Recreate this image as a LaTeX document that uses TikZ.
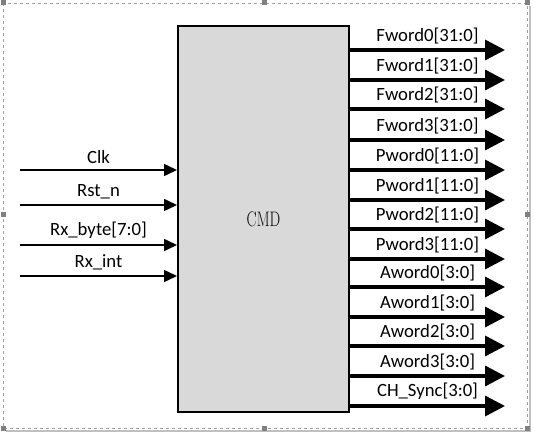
\documentclass[tikz,border=0pt]{standalone}
\usepackage{fontspec}
\setsansfont{Carlito}
\usepackage{tikz}
\usetikzlibrary{positioning, arrows.meta, calc}

\definecolor{blockgray}{RGB}{217,217,217}
\definecolor{framegray}{RGB}{160,160,160}
\definecolor{handlegray}{RGB}{128,128,128}

\begin{document}
\begin{tikzpicture}[x=1pt, y=-1pt,
        every node/.style={font=\sffamily\fontsize{18.7}{20}\selectfont},
        inarrow/.style={-{Triangle[length=13pt, width=12pt]}, line width=1.6pt},
        outarrow/.style={-{Triangle[length=20pt, width=20pt]}, line width=3.4pt},
        handle/.style={fill=handlegray, minimum size=5pt, inner sep=0pt}]
        \useasboundingbox (0,0) rectangle (534,435);

        % Frame and handles
        \draw[framegray, dashed] (3,3) rectangle (527,428);
        \draw[gray!50, line width=1.5pt] (530,6) -- (530,431) -- (6,431);
        \node[handle] (h1) at (3,3) {};
        \node[handle] (h2) at (264,3) {};
        \node[handle] (h3) at (527,3) {};
        \node[handle] (h4) at (3,215) {};
        \node[handle] (h5) at (527,215) {};
        \node[handle] (h6) at (3,428) {};
        \node[handle] (h7) at (264,428) {};
        \node[handle] (h8) at (527,428) {};

        % Block
        \node[draw, line width=2pt, fill=blockgray, minimum width=171pt, minimum height=386pt,
            font=\rmfamily\fontsize{21}{21}\selectfont] (cmd) at (263.5,219) {\scalebox{0.72}[1]{CMD}};

        % Input nodes
        \coordinate (clk) at (20,170);
        \coordinate (rst) at (20,205);
        \coordinate (rxbyte) at (20,245);
        \coordinate (rxint) at (20,276);

        % Output nodes
        \coordinate (fw0) at (505,50);
        \coordinate (fw1) at (505,80);
        \coordinate (fw2) at (505,109);
        \coordinate (fw3) at (505,140);
        \coordinate (pw0) at (505,170);
        \coordinate (pw1) at (505,200);
        \coordinate (pw2) at (505,229);
        \coordinate (pw3) at (505,259);
        \coordinate (aw0) at (505,287);
        \coordinate (aw1) at (505,317);
        \coordinate (aw2) at (505,346);
        \coordinate (aw3) at (505,376);
        \coordinate (sync) at (505,406);

        % Input arrows
        \draw[inarrow] (clk) -- (clk -| cmd.west) node[midway, above=2pt] (lclk) {Clk};
        \draw[inarrow] (rst) -- (rst -| cmd.west) node[midway, above=2pt] (lrst) {Rst\_n};
        \draw[inarrow] (rxbyte) -- (rxbyte -| cmd.west) node[midway, above=2pt] (lrxbyte) {Rx\_byte[7:0]};
        \draw[inarrow] (rxint) -- (rxint -| cmd.west) node[midway, above=2pt] (lrxint) {Rx\_int};

        % Output arrows
        \draw[outarrow] (fw0 -| cmd.east) -- (fw0) node[midway, above=1pt] (lfw0) {Fword0[31:0]};
        \draw[outarrow] (fw1 -| cmd.east) -- (fw1) node[midway, above=1pt] (lfw1) {Fword1[31:0]};
        \draw[outarrow] (fw2 -| cmd.east) -- (fw2) node[midway, above=1pt] (lfw2) {Fword2[31:0]};
        \draw[outarrow] (fw3 -| cmd.east) -- (fw3) node[midway, above=1pt] (lfw3) {Fword3[31:0]};
        \draw[outarrow] (pw0 -| cmd.east) -- (pw0) node[midway, above=1pt] (lpw0) {Pword0[11:0]};
        \draw[outarrow] (pw1 -| cmd.east) -- (pw1) node[midway, above=1pt] (lpw1) {Pword1[11:0]};
        \draw[outarrow] (pw2 -| cmd.east) -- (pw2) node[midway, above=1pt] (lpw2) {Pword2[11:0]};
        \draw[outarrow] (pw3 -| cmd.east) -- (pw3) node[midway, above=1pt] (lpw3) {Pword3[11:0]};
        \draw[outarrow] (aw0 -| cmd.east) -- (aw0) node[midway, above=1pt] (law0) {Aword0[3:0]};
        \draw[outarrow] (aw1 -| cmd.east) -- (aw1) node[midway, above=1pt] (law1) {Aword1[3:0]};
        \draw[outarrow] (aw2 -| cmd.east) -- (aw2) node[midway, above=1pt] (law2) {Aword2[3:0]};
        \draw[outarrow] (aw3 -| cmd.east) -- (aw3) node[midway, above=1pt] (law3) {Aword3[3:0]};
        \draw[outarrow] (sync -| cmd.east) -- (sync) node[midway, above=1pt] (lsync) {CH\_Sync[3:0]};
    \end{tikzpicture}
\end{document}
